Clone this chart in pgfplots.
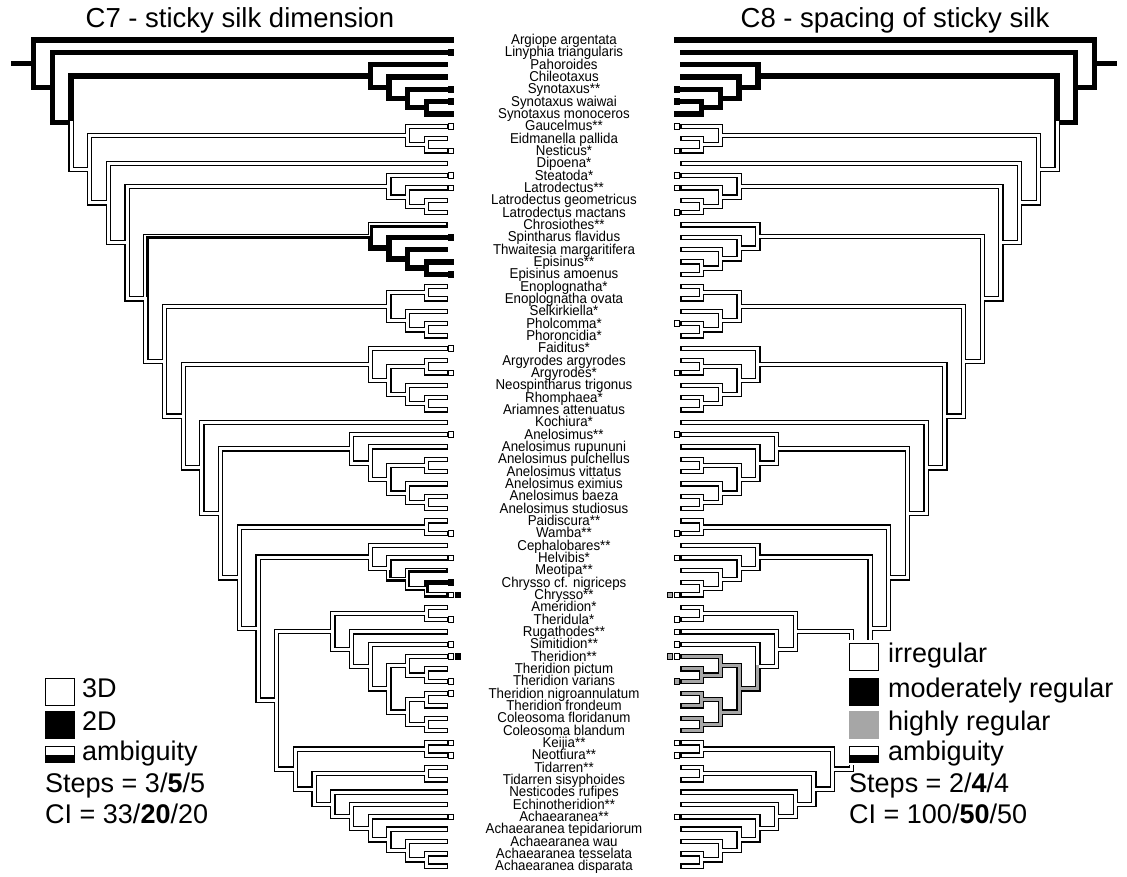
\documentclass[border=0pt]{standalone}
\usepackage{pgfplots}
\usepackage{pgfplotstable}
\pgfplotsset{compat=1.18}
\usepackage{fontspec}
\setmainfont{Liberation Sans}
\newfontfamily\labfont[FakeStretch=0.93]{Liberation Sans}
\definecolor{hreg}{HTML}{A6A6A6}
\pgfplotsset{
  base/.style={width=1127pt,height=877pt,scale only axis,xmin=0,xmax=1127,ymin=0,ymax=877,y dir=reverse,hide axis,clip=false,unbounded coords=jump,at={(0pt,0pt)},anchor=south west},
  outer/.style={black,line width=5.4pt,line cap=rect,line join=miter,mark=none},
  inner/.style={white,line width=3pt,line cap=rect,line join=miter,mark=none},
  strip/.style={white,line width=1.5pt,line cap=rect,line join=miter,mark=none},
  wsq/.style={only marks,mark=square*,mark size=2.8pt,mark options={fill=white,draw=black,line width=0.8pt}},
  bsq/.style={only marks,mark=square*,mark size=2.8pt,mark options={fill=black,draw=black,line width=0.8pt}},
  gsq/.style={only marks,mark=square*,mark size=2.8pt,mark options={fill=hreg,draw=black,line width=0.8pt}},
}
\newcommand{\lab}[2]{\node[anchor=base,font=\labfont\fontsize{14.3}{15}\selectfont,inner sep=0pt] at (axis cs:564,#1) {#2};}
\newcommand{\leg}{\fontsize{27}{30}\selectfont}
\begin{document}
\pgfplotstableread{
x y
14 63.8
33.6 63.8
nan nan
445 40.0
33.6 40.0
33.6 87.6
52.3 87.6
nan nan
445 52.3
52.3 52.3
52.3 122.8
71 122.8
nan nan
370.2 76.2
71 76.2
71 122.8
nan nan
445 64.7
370.2 64.7
370.2 87.8
388.9 87.8
nan nan
445 77.0
388.9 77.0
388.9 98.6
407.6 98.6
nan nan
445 89.3
407.6 89.3
407.6 107.8
426.3 107.8
nan nan
445 101.7
426.3 101.7
426.3 114.0
445 114.0
}\topblack
\pgfplotstableread{
x y
71 122.8
71 169.3
89.7 169.3
nan nan
407.6 135.6
89.7 135.6
89.7 203.0
108.4 203.0
nan nan
445 126.3
407.6 126.3
407.6 144.8
426.3 144.8
nan nan
445 138.6
426.3 138.6
426.3 151.0
445 151.0
nan nan
445 163.3
108.4 163.3
108.4 242.7
127.1 242.7
nan nan
388.9 186.4
127.1 186.4
127.1 299.0
145.8 299.0
nan nan
445 175.6
388.9 175.6
388.9 197.2
407.6 197.2
nan nan
445 188.0
407.6 188.0
407.6 206.5
426.3 206.5
nan nan
445 200.3
426.3 200.3
426.3 212.6
445 212.6
nan nan
145.8 299.0
145.8 361.4
164.5 361.4
nan nan
388.9 306.6
164.5 306.6
164.5 416.1
183.2 416.1
nan nan
426.3 292.8
388.9 292.8
388.9 320.5
407.6 320.5
nan nan
445 286.6
426.3 286.6
426.3 298.9
445 298.9
nan nan
445 311.3
407.6 311.3
407.6 329.8
426.3 329.8
nan nan
445 323.6
426.3 323.6
426.3 335.9
445 335.9
nan nan
370.2 364.4
183.2 364.4
183.2 467.8
201.9 467.8
nan nan
445 348.3
370.2 348.3
370.2 380.6
388.9 380.6
nan nan
426.3 366.7
388.9 366.7
388.9 394.5
407.6 394.5
nan nan
445 360.6
426.3 360.6
426.3 372.9
445 372.9
nan nan
445 385.2
407.6 385.2
407.6 403.7
426.3 403.7
nan nan
445 397.6
426.3 397.6
426.3 409.9
445 409.9
nan nan
445 422.2
201.9 422.2
201.9 513.3
220.6 513.3
nan nan
351.5 448.8
220.6 448.8
220.6 577.8
239.3 577.8
nan nan
445 434.6
351.5 434.6
351.5 463.1
370.2 463.1
nan nan
445 446.9
370.2 446.9
370.2 479.3
388.9 479.3
nan nan
426.3 465.4
388.9 465.4
388.9 493.1
407.6 493.1
nan nan
445 459.2
426.3 459.2
426.3 471.6
445 471.6
nan nan
445 483.9
407.6 483.9
407.6 502.4
426.3 502.4
nan nan
445 496.2
426.3 496.2
426.3 508.5
445 508.5
nan nan
426.3 527.0
239.3 527.0
239.3 628.6
258 628.6
nan nan
445 520.9
426.3 520.9
426.3 533.2
445 533.2
nan nan
370.2 557.1
258 557.1
258 700.1
276.7 700.1
nan nan
445 545.5
370.2 545.5
370.2 568.6
388.9 568.6
nan nan
445 557.9
388.9 557.9
388.9 568.6
nan nan
332.8 631.2
276.7 631.2
276.7 769.0
295.4 769.0
nan nan
426.3 613.3
332.8 613.3
332.8 649.2
351.5 649.2
nan nan
445 607.2
426.3 607.2
426.3 619.5
445 619.5
nan nan
445 631.8
351.5 631.8
351.5 666.5
370.2 666.5
nan nan
445 644.2
370.2 644.2
370.2 666.5
nan nan
426.3 749.0
295.4 749.0
295.4 789.0
314.1 789.0
nan nan
445 742.8
426.3 742.8
426.3 755.1
445 755.1
nan nan
426.3 773.6
314.1 773.6
314.1 804.3
332.8 804.3
nan nan
445 767.5
426.3 767.5
426.3 779.8
445 779.8
nan nan
445 792.1
332.8 792.1
332.8 816.4
351.5 816.4
nan nan
445 804.5
351.5 804.5
351.5 828.4
370.2 828.4
nan nan
445 816.8
370.2 816.8
370.2 839.9
388.9 839.9
nan nan
445 829.1
388.9 829.1
388.9 850.7
407.6 850.7
nan nan
445 841.5
407.6 841.5
407.6 859.9
426.3 859.9
nan nan
445 853.8
426.3 853.8
426.3 866.1
445 866.1
}\whiteC
\pgfplotstableread{
x y
370.2 666.5
370.2 688.9
388.9 688.9
nan nan
407.6 665.7
388.9 665.7
388.9 712.0
407.6 712.0
nan nan
445 656.5
407.6 656.5
407.6 675.0
426.3 675.0
nan nan
445 668.8
426.3 668.8
426.3 681.2
445 681.2
nan nan
426.3 699.7
407.6 699.7
407.6 724.3
426.3 724.3
nan nan
445 693.5
426.3 693.5
426.3 705.8
445 705.8
nan nan
445 718.2
426.3 718.2
426.3 730.5
445 730.5
}\thgrp
\pgfplotstableread{
x y
370.2 236.5
370.2 248.1
388.9 248.1
nan nan
445 237.3
388.9 237.3
388.9 258.9
407.6 258.9
nan nan
445 249.6
407.6 249.6
407.6 268.1
426.3 268.1
nan nan
445 261.9
426.3 261.9
426.3 274.3
445 274.3
nan nan
426.3 588.7
426.3 582.5
445 582.5
}\cblk
\pgfplotstableread{
x y
145.8 299.0
145.8 236.5
370.2 236.5
nan nan
370.2 236.5
370.2 225.0
445 225.0
nan nan
388.9 568.6
388.9 579.4
407.6 579.4
nan nan
445 570.2
407.6 570.2
407.6 588.7
426.3 588.7
nan nan
426.3 588.7
426.3 594.9
445 594.9
}\camb
\pgfplotstableread{
x y
145.05 298.25
145.05 235.75
369.45 235.75
nan nan
369.45 235.75
369.45 224.25
445.7 224.25
nan nan
388.15 567.85
388.15 578.65
406.85 578.65
nan nan
445.7 569.45
406.85 569.45
406.85 587.95
425.55 587.95
nan nan
425.55 587.95
425.55 594.15
445.7 594.15
}\cambw
\begin{tikzpicture}
\begin{axis}[base]
\path (axis cs:0,0) rectangle (axis cs:1127,877);
% left tree: C7
\addplot[outer] table {\whiteC};
\addplot[outer] table {\thgrp};
\addplot[outer] table {\topblack};
\addplot[outer] table {\cblk};
\addplot[outer] table {\camb};
\addplot[inner] table {\whiteC};
\addplot[inner] table {\thgrp};
\addplot[strip] table {\cambw};
\addplot[wsq] coordinates {(451,126.3) (451,151.0) (451,175.6) (451,188.0) (451,348.3) (451,372.9) (451,434.6) (451,533.2) (451,557.9) (451,594.9) (451,619.5) (451,644.2) (451,656.5) (451,681.2) (451,693.5) (451,742.8) (451,755.1) (451,816.8)};
\addplot[bsq] coordinates {(451,40.0) (451,52.3) (451,89.3) (451,101.7) (451,114.0) (451,237.3) (451,261.9) (451,274.3) (451,582.5) (458,594.9) (458,656.5)};
% taxon names
\lab{44.5}{Argiope argentata}
\lab{56.8}{Linyphia triangularis}
\lab{69.2}{Pahoroides}
\lab{81.5}{Chileotaxus}
\lab{93.8}{Synotaxus**}
\lab{106.2}{Synotaxus waiwai}
\lab{118.5}{Synotaxus monoceros}
\lab{130.8}{Gaucelmus**}
\lab{143.1}{Eidmanella pallida}
\lab{155.5}{Nesticus*}
\lab{167.8}{Dipoena*}
\lab{180.1}{Steatoda*}
\lab{192.5}{Latrodectus**}
\lab{204.8}{Latrodectus geometricus}
\lab{217.1}{Latrodectus mactans}
\lab{229.5}{Chrosiothes**}
\lab{241.8}{Spintharus flavidus}
\lab{254.1}{Thwaitesia margaritifera}
\lab{266.4}{Episinus**}
\lab{278.8}{Episinus amoenus}
\lab{291.1}{Enoplognatha*}
\lab{303.4}{Enoplognatha ovata}
\lab{315.8}{Selkirkiella*}
\lab{328.1}{Pholcomma*}
\lab{340.4}{Phoroncidia*}
\lab{352.8}{Faiditus*}
\lab{365.1}{Argyrodes argyrodes}
\lab{377.4}{Argyrodes*}
\lab{389.7}{Neospintharus trigonus}
\lab{402.1}{Rhomphaea*}
\lab{414.4}{Ariamnes attenuatus}
\lab{426.7}{Kochiura*}
\lab{439.1}{Anelosimus**}
\lab{451.4}{Anelosimus rupununi}
\lab{463.7}{Anelosimus pulchellus}
\lab{476.1}{Anelosimus vittatus}
\lab{488.4}{Anelosimus eximius}
\lab{500.7}{Anelosimus baeza}
\lab{513.0}{Anelosimus studiosus}
\lab{525.4}{Paidiscura**}
\lab{537.7}{Wamba**}
\lab{550.0}{Cephalobares**}
\lab{562.4}{Helvibis*}
\lab{574.7}{Meotipa**}
\lab{587.0}{Chrysso cf. nigriceps}
\lab{599.4}{Chrysso**}
\lab{611.7}{Ameridion*}
\lab{624.0}{Theridula*}
\lab{636.3}{Rugathodes**}
\lab{648.7}{Simitidion**}
\lab{661.0}{Theridion**}
\lab{673.3}{Theridion pictum}
\lab{685.7}{Theridion varians}
\lab{698.0}{Theridion nigroannulatum}
\lab{710.3}{Theridion frondeum}
\lab{722.7}{Coleosoma floridanum}
\lab{735.0}{Coleosoma blandum}
\lab{747.3}{Keijia**}
\lab{759.6}{Neottiura**}
\lab{772.0}{Tidarren**}
\lab{784.3}{Tidarren sisyphoides}
\lab{796.6}{Nesticodes rufipes}
\lab{809.0}{Echinotheridion**}
\lab{821.3}{Achaearanea**}
\lab{833.6}{Achaearanea tepidariorum}
\lab{846.0}{Achaearanea wau}
\lab{858.3}{Achaearanea tesselata}
\lab{870.6}{Achaearanea disparata}
% titles
\node[anchor=base,font=\fontsize{27.5}{30}\selectfont,inner sep=0pt] at (axis cs:240,28) {C7 - sticky silk dimension};
\node[anchor=base,font=\fontsize{27.5}{30}\selectfont,inner sep=0pt] at (axis cs:895,28) {C8 - spacing of sticky silk};
% left legend
\draw[line width=1.2pt,fill=white] (axis cs:45.6,678.6) rectangle (axis cs:74.4,705.4);
\fill[black] (axis cs:45,711) rectangle (axis cs:75,739);
\fill[black] (axis cs:45,754.5) rectangle (axis cs:75,763);
\draw[line width=1.2pt] (axis cs:45.6,746.6) rectangle (axis cs:74.4,762.4);
\node[anchor=base west,font=\leg,inner sep=0pt] at (axis cs:82,697) {3D};
\node[anchor=base west,font=\leg,inner sep=0pt] at (axis cs:82,730) {2D};
\node[anchor=base west,font=\leg,inner sep=0pt] at (axis cs:82,760) {ambiguity};
\node[anchor=base west,font=\leg,inner sep=0pt] at (axis cs:45,792) {Steps = 3/\textbf{5}/5};
\node[anchor=base west,font=\leg,inner sep=0pt] at (axis cs:45,823) {CI = 33/\textbf{20}/20};
\end{axis}
% right tree: C8 (mirrored axis)
\begin{axis}[base,xmin=1,xmax=1128,x dir=reverse]
\addplot[outer] table {\whiteC};
\addplot[outer] table {\thgrp};
\addplot[outer] table {\cblk};
\addplot[outer] table {\camb};
\addplot[outer] table {\topblack};
\addplot[inner] table {\whiteC};
\addplot[inner] table {\cblk};
\addplot[inner] table {\camb};
\addplot[hreg,line width=3pt,line cap=rect,line join=miter,mark=none] table {\thgrp};
\addplot[wsq] coordinates {(451,126.3) (451,151.0) (451,175.6) (451,188.0) (451,212.6) (451,323.6) (451,372.9) (451,434.6) (451,533.2) (451,557.9) (451,594.9) (451,619.5) (451,631.8) (451,644.2) (451,656.5) (451,742.8) (451,755.1) (451,816.8)};
\addplot[bsq] coordinates {(451,40.0) (451,89.3) (451,101.7) (451,114.0)};
\addplot[gsq] coordinates {(458,594.9) (458,656.5) (451,681.2)};
\end{axis}
% right legend (drawn over the tree, on a white ground)
\begin{axis}[base]
\fill[white] (axis cs:845,640) rectangle (axis cs:883,765);
\draw[line width=1.2pt,fill=white] (axis cs:849.6,643.6) rectangle (axis cs:878.4,670.4);
\fill[black] (axis cs:849,678) rectangle (axis cs:879,706);
\fill[hreg] (axis cs:849,711) rectangle (axis cs:879,739);
\fill[white] (axis cs:849,746) rectangle (axis cs:879,754.5);
\fill[black] (axis cs:849,754.5) rectangle (axis cs:879,763);
\draw[line width=1.2pt] (axis cs:849.6,746.6) rectangle (axis cs:878.4,762.4);
\node[anchor=base west,font=\leg,inner sep=0pt] at (axis cs:888,662) {irregular};
\node[anchor=base west,font=\leg,inner sep=0pt] at (axis cs:888,697) {moderately regular};
\node[anchor=base west,font=\leg,inner sep=0pt] at (axis cs:888,730) {highly regular};
\node[anchor=base west,font=\leg,inner sep=0pt] at (axis cs:888,760) {ambiguity};
\node[anchor=base west,font=\leg,inner sep=0pt] at (axis cs:849,792) {Steps = 2/\textbf{4}/4};
\node[anchor=base west,font=\leg,inner sep=0pt] at (axis cs:849,823) {CI = 100/\textbf{50}/50};
\end{axis}
\end{tikzpicture}
\end{document}
